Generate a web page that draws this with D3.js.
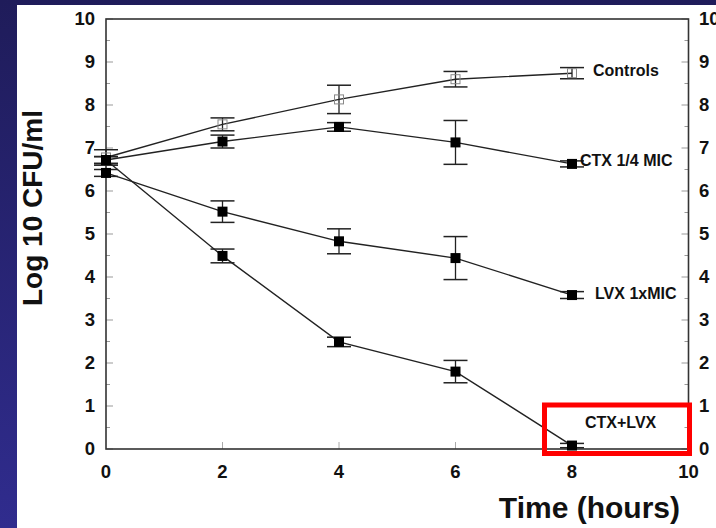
<!DOCTYPE html>
<html><head><meta charset="utf-8">
<script src="https://cdn.jsdelivr.net/npm/d3@7"></script>
<style>html,body{margin:0;padding:0;background:#fff;overflow:hidden}svg{display:block}</style>
</head><body>
<script>
// ---- data ----
const times = [0, 2, 4, 6, 8];
const seriesNames = ["Controls", "CTX 1/4 MIC", "LVX 1xMIC", "CTX+LVX"];
const controls     = [6.78, 7.55, 8.13, 8.60, 8.74];
const controlsErr  = [0.18, 0.15, 0.33, 0.18, 0.13];
const ctxQuarter    = [6.72, 7.15, 7.49, 7.13, 6.63];
const ctxQuarterErr = [0.08, 0.15, 0.10, 0.51, 0.07];
const lvx1x         = [6.42, 5.52, 4.83, 4.44, 3.58];
const lvx1xErr      = [0.08, 0.25, 0.29, 0.50, 0.08];
const combo         = [6.72, 4.49, 2.49, 1.80, 0.08];
const comboErr      = [0.08, 0.16, 0.11, 0.26, 0.05];
const xTicks = [0, 2, 4, 6, 8, 10];
const yTicks = [0, 1, 2, 3, 4, 5, 6, 7, 8, 9, 10];
const xTitle = "Time (hours)";
const yTitle = "Log 10 CFU/ml";

const W = 716, H = 528;
const svg = d3.select("body").append("svg").attr("width", W).attr("height", H);

// background: navy frame
const defs = svg.append("defs");
const g1 = defs.append("linearGradient").attr("id","navy").attr("x1",0).attr("y1",0).attr("x2",0).attr("y2",1);
g1.append("stop").attr("offset","0%").attr("stop-color","#1f1c5a");
g1.append("stop").attr("offset","100%").attr("stop-color","#302c8e");
svg.append("rect").attr("width",W).attr("height",H).attr("fill","url(#navy)");
svg.append("rect").attr("x",17).attr("y",5).attr("width",W-17).attr("height",H-5).attr("fill","#ffffff");

const x = d3.scaleLinear().domain([0,10]).range([106, 688.5]);
const y = d3.scaleLinear().domain([0,10]).range([449, 19]);
const font = "'Liberation Sans', Arial, sans-serif";

// minor/inner ticks
const half = d3.range(0, 10.01, 0.5);
svg.append("g").selectAll("line").data(half).join("line")
  .attr("x1", x(0)).attr("x2", d => x(0) + (Number.isInteger(d) ? 7 : 4))
  .attr("y1", d => y(d)).attr("y2", d => y(d))
  .attr("stroke", "#999").attr("stroke-width", 1);
svg.append("g").selectAll("line").data(half).join("line")
  .attr("x1", x(10)).attr("x2", d => x(10) - (Number.isInteger(d) ? 7 : 4))
  .attr("y1", d => y(d)).attr("y2", d => y(d))
  .attr("stroke", "#999").attr("stroke-width", 1);
svg.append("g").selectAll("line").data([2,4,6,8]).join("line")
  .attr("x1", d => x(d)).attr("x2", d => x(d))
  .attr("y1", y(0)).attr("y2", y(0) - 7)
  .attr("stroke", "#aaa").attr("stroke-width", 1);

// frame
svg.append("rect").attr("x", x(0)).attr("y", y(10)).attr("width", x(10)-x(0)).attr("height", y(0)-y(10))
  .attr("fill","none").attr("stroke","#333").attr("stroke-width",1.6);

// tick labels
svg.append("g").selectAll("text").data(yTicks).join("text")
  .attr("x", 95).attr("y", d => y(d)).attr("dy","0.35em").attr("text-anchor","end")
  .attr("font-family", font).attr("font-weight","bold").attr("font-size", 18.5).attr("fill","#111")
  .text(d => d);
svg.append("g").selectAll("text").data(yTicks).join("text")
  .attr("x", 699).attr("y", d => y(d)).attr("dy","0.35em").attr("text-anchor","start")
  .attr("font-family", font).attr("font-weight","bold").attr("font-size", 18.5).attr("fill","#111")
  .text(d => d);
svg.append("g").selectAll("text").data(xTicks).join("text")
  .attr("x", d => x(d)).attr("y", 472).attr("dy","0.35em").attr("text-anchor","middle")
  .attr("font-family", font).attr("font-weight","bold").attr("font-size", 18.5).attr("fill","#111")
  .text(d => d);

// titles
svg.append("text").attr("x", 680).attr("y", 518).attr("text-anchor","end")
  .attr("font-family", font).attr("font-weight","bold").attr("font-size", 30).attr("fill","#111")
  .text(xTitle);
svg.append("text").attr("transform","translate(42,208) rotate(-90)").attr("text-anchor","middle")
  .attr("font-family", font).attr("font-weight","bold").attr("font-size", 28).attr("fill","#111")
  .text(yTitle);

// series
const series = [
  {name: seriesNames[0], v: controls, e: controlsErr, open: true},
  {name: seriesNames[1], v: ctxQuarter, e: ctxQuarterErr, open: false},
  {name: seriesNames[2], v: lvx1x, e: lvx1xErr, open: false},
  {name: seriesNames[3], v: combo, e: comboErr, open: false}
];
const line = d3.line().x(d => x(d[0])).y(d => y(d[1]));
const capW = 12;
series.forEach(s => {
  const pts = times.map((t,i) => [t, s.v[i], s.e[i]]);
  const g = svg.append("g");
  g.append("path").attr("d", line(pts)).attr("fill","none").attr("stroke","#222").attr("stroke-width",1.4);
  pts.forEach(p => {
    const cx = x(p[0]), hi = y(p[1]+p[2]), lo = y(p[1]-p[2]);
    g.append("line").attr("x1",cx).attr("x2",cx).attr("y1",hi).attr("y2",lo).attr("stroke","#222").attr("stroke-width",1.3);
    g.append("line").attr("x1",cx-capW).attr("x2",cx+capW).attr("y1",hi).attr("y2",hi).attr("stroke","#222").attr("stroke-width",1.5);
    g.append("line").attr("x1",cx-capW).attr("x2",cx+capW).attr("y1",lo).attr("y2",lo).attr("stroke","#222").attr("stroke-width",1.5);
  });
  if (s.open) {
    g.selectAll("rect").data(pts).join("rect")
      .attr("x", d => x(d[0]) - 4.5).attr("y", d => y(d[1]) - 4.5).attr("width", 9).attr("height", 9)
      .attr("fill","none").attr("stroke","#888").attr("stroke-width",1);
  } else {
    g.selectAll("rect").data(pts).join("rect")
      .attr("x", d => x(d[0]) - 5).attr("y", d => y(d[1]) - 5).attr("width", 10).attr("height", 10)
      .attr("fill","#000");
  }
});

// series labels
const labelPos = [[593, 8.80], [580, 6.72], [595, 3.63], [585, 0.62]];
svg.append("g").selectAll("text").data(seriesNames).join("text")
  .attr("x", (d,i) => labelPos[i][0]).attr("y", (d,i) => y(labelPos[i][1])).attr("dy","0.35em")
  .attr("font-family", font).attr("font-weight","bold").attr("font-size", 16).attr("fill","#111")
  .text(d => d);

// red highlight box
svg.append("rect").attr("x", 544.5).attr("y", 405).attr("width", 145).attr("height", 48.5)
  .attr("fill","none").attr("stroke","#ff0000").attr("stroke-width",5);
</script>
</body></html>
